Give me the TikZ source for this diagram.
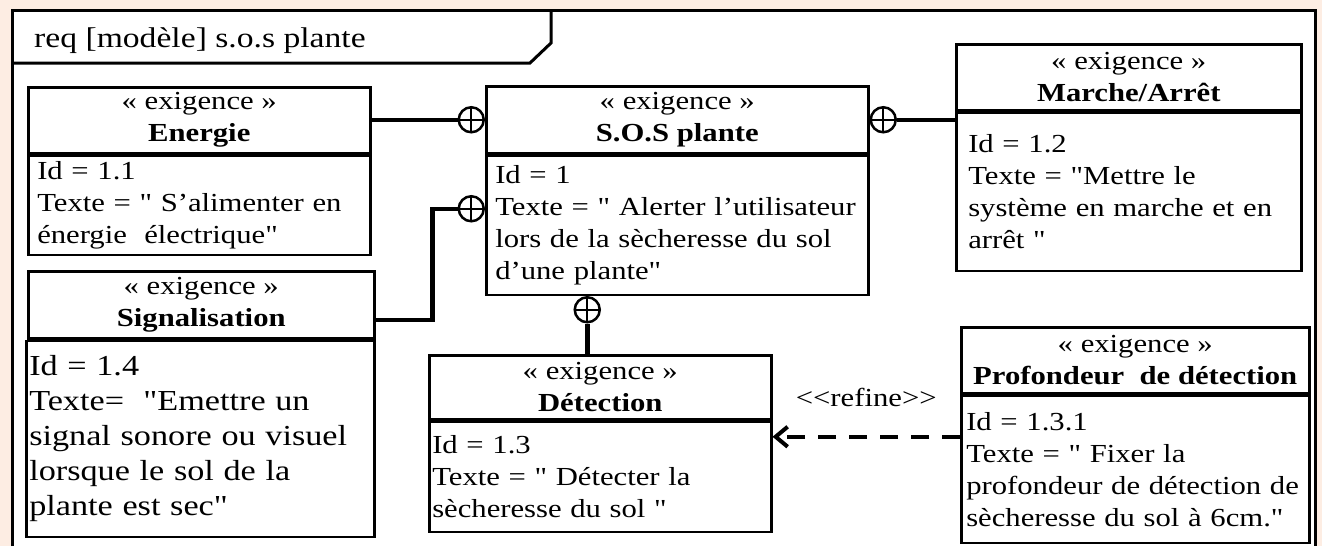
\documentclass[tikz,border=0pt]{standalone}
\usepackage{fontspec}
\setmainfont{Liberation Serif}[Ligatures=TeXOff, FakeStretch=1.18]
\usetikzlibrary{positioning, arrows.meta, calc}
\usepackage{xcolor}
\definecolor{pagepeach}{HTML}{FDEDE3}

\newcommand{\reqfont}{\fontsize{26}{32}\selectfont}
\newcommand{\bigreqfont}{\fontsize{29}{35}\selectfont}

\begin{document}
\begin{tikzpicture}[
    x=1pt, y=-1pt,
    every node/.style={font=\reqfont},
    head/.style={
        rectangle, draw, line width=2.5pt, align=center,
        inner sep=0pt, anchor=north west,
    },
    body/.style={
        rectangle, draw, line width=2.5pt, align=left,
        inner ysep=0pt, anchor=north west,
    },
    contain/.style={
        circle, draw, line width=2.5pt, minimum size=25pt, inner sep=0pt,
        path picture={
            \draw[line width=2pt]
                (path picture bounding box.north) -- (path picture bounding box.south)
                (path picture bounding box.west) -- (path picture bounding box.east);
        },
    },
    conn/.style={line width=4.5pt},
    refine/.style={line width=4pt, dash pattern=on 18pt off 13pt,
        -{Straight Barb[length=12pt, width=20pt]}},
]

% Page and frame
\useasboundingbox (0,0) rectangle (1322,546);
\fill[pagepeach] (0,0) rectangle (1322,546);
\fill[white] (12,10) rectangle (1315,546);
\draw[line width=3pt] (12,546) -- (12,10) -- (1315,10) -- (1315,546);
\draw[line width=3pt] (12,63) -- (530,63) -- (551,43) -- (551,10);
\node[anchor=west, inner sep=0pt, font=\fontsize{28.5}{34}\selectfont] (title)
    at (34,41) {req [modèle] s.o.s plante};

% Energie
\node[head, minimum width=342pt, minimum height=66pt] (energie) at (27,86)
    {« exigence »\\\textbf{Energie}};
\node[body, inner xsep=9pt, text width=324pt, minimum height=99pt] (energieid)
    at (energie.south west)
    {Id = 1.1\\Texte = " S’alimenter en\\énergie\ \ électrique"};

% S.O.S plante
\node[head, minimum width=382pt, minimum height=67pt] (sos) at (485,85)
    {« exigence »\\\textbf{S.O.S plante}};
\node[body, inner xsep=9pt, text width=364pt, minimum height=139pt] (sosid)
    at (sos.south west)
    {Id = 1\\Texte = " Alerter l’utilisateur\\lors de la sècheresse du sol\\d’une plante"};

% Marche/Arret
\node[head, minimum width=345pt, minimum height=66pt] (marche) at (955,43)
    {« exigence »\\\textbf{Marche/Arrêt}};
\node[body, inner xsep=12pt, text width=321pt, minimum height=158pt] (marcheid)
    at (marche.south west)
    {Id = 1.2\\Texte = "Mettre le\\système en marche et en\\arrêt "};

% Signalisation
\node[head, minimum width=346pt, minimum height=67pt] (signal) at (27,270)
    {« exigence »\\\textbf{Signalisation}};
\node[body, inner xsep=3pt, text width=342pt, minimum height=196pt,
    font=\bigreqfont] (signalid) at ([xshift=-2pt]signal.south west)
    {Id = 1.4\\Texte=\ \ "Emettre un\\signal sonore ou visuel\\lorsque le sol de la\\plante est sec"};

% Detection
\node[head, minimum width=342pt, minimum height=64pt] (detect) at (428,354)
    {« exigence »\\\textbf{Détection}};
\node[body, inner xsep=3pt, text width=336pt, minimum height=110pt] (detectid)
    at (detect.south west)
    {Id = 1.3\\Texte = " Détecter la\\sècheresse du sol "};

% Profondeur de detection
\node[head, minimum width=348pt, minimum height=66pt] (profond) at (960,326)
    {« exigence »\\\textbf{Profondeur\ \ de détection}};
\node[body, inner xsep=5pt, text width=338pt, minimum height=147pt] (profondid)
    at (profond.south west)
    {Id = 1.3.1\\Texte = " Fixer la\\profondeur de détection de\\sècheresse du sol à 6cm."};

% --- Containment links ---
\node[contain, anchor=east] (oE) at (sos.west) {};
\node[contain, anchor=east] (oS) at ([yshift=16.5pt]sosid.west) {};
\node[contain, anchor=west] (oM) at (sos.east) {};
\node[contain, anchor=north] (oD) at ([xshift=-90pt]sosid.south) {};

\draw[conn] (oE.west -| energie.east) -- (oE.west);
\draw[conn] ([yshift=-15pt]signal.east) -- ++(57pt,0) |- (oS.west);
\draw[conn] (oM.east) -- (oM.east -| marcheid.west);
\draw[conn] (oD.south) -- (oD.south |- detect.north);

% --- Refine dependency ---
\draw[refine] ([yshift=32.5pt]profondid.west)
    -- ([yshift=32.5pt]profondid.west -| detectid.east)
    node[midway, above=25pt] (refinelbl) {<<refine>>};

\end{tikzpicture}
\end{document}
